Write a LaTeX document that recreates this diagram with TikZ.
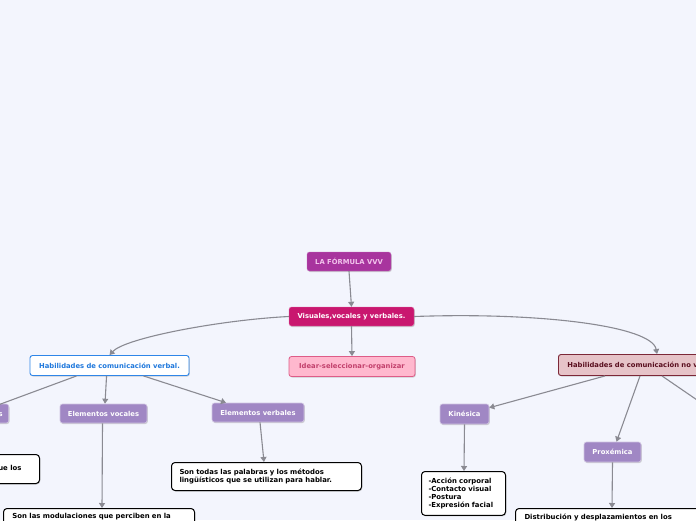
\documentclass[tikz,border=0pt]{standalone}
\usepackage{fontspec}
\setmainfont{DejaVu Sans}
\usetikzlibrary{arrows.meta,shadows}
\definecolor{bg}{HTML}{F3F5FD}
\definecolor{vvv}{HTML}{A8349E}
\definecolor{vvvtxt}{HTML}{F2C4EC}
\definecolor{vis}{HTML}{C9176F}
\definecolor{idea}{HTML}{FFB8CE}
\definecolor{ideaborder}{HTML}{DE5C88}
\definecolor{ideatxt}{HTML}{C2406C}
\definecolor{verb}{HTML}{2F86E8}
\definecolor{verbtxt}{HTML}{1F78DC}
\definecolor{nov}{HTML}{E6C3C8}
\definecolor{novborder}{HTML}{7C2838}
\definecolor{novtxt}{HTML}{5A0F1F}
\definecolor{purp}{HTML}{A087C4}
\definecolor{edge}{HTML}{8A8A92}
\tikzset{
  x=1pt,y=-1pt,
  every node/.style={font=\fontsize{6.8}{8}\selectfont\bfseries},
  base/.style={rounded corners=2.5pt, inner xsep=6pt, inner ysep=0pt, minimum height=19pt,
     drop shadow={shadow xshift=0.8pt,shadow yshift=-1pt,fill=black!35,opacity=0.5}},
  topbox/.style={base, fill=vvv, draw=vvv!70!white, text=vvvtxt},
  visbox/.style={base, fill=vis, draw=vis!60!white, text=white},
  ideabox/.style={base, fill=idea, draw=ideaborder, line width=0.8pt, text=ideatxt, minimum height=20pt},
  verbbox/.style={base, fill=white, draw=verb, line width=0.9pt, text=verbtxt, minimum height=20pt},
  novbox/.style={base, fill=nov, draw=novborder, line width=0.9pt, text=novtxt, minimum height=21pt},
  purpbox/.style={base, fill=purp, draw=purp!50!white, line width=0.6pt, text=white},
  textbox/.style={rounded corners=3.5pt, fill=white, draw=black, line width=1pt, align=left,
     inner xsep=8pt, inner ysep=5pt, font=\fontsize{6.9}{8.4}\selectfont\bfseries,
     drop shadow={shadow xshift=0.8pt,shadow yshift=-1pt,fill=black!35,opacity=0.5}},
  conn/.style={draw=edge, line width=1.1pt, -{Triangle[length=5pt,width=6pt]}},
}
\begin{document}
\begin{tikzpicture}
\useasboundingbox (0,0) rectangle (696,520);
\fill[bg] (0,0) rectangle (696,520);

\node[topbox, minimum width=84pt] (vvv) at (349,261.5) {LA FÓRMULA VVV};
\node[visbox, minimum width=125pt] (vis) at (351.5,316.5) {Visuales,vocales y verbales.};
\node[ideabox, minimum width=126pt] (idea) at (352,366.5) {Idear-seleccionar-organizar};
\node[verbbox, minimum width=159pt] (hv) at (109.5,365.5) {Habilidades de comunicación verbal.};
\node[novbox, anchor=west, inner xsep=9pt] (hnv) at (558,365) {Habilidades de comunicación no verbal.};

\node[purpbox, anchor=east, inner xsep=6pt] (evis) at (9,413.5) {Elementos visuales};
\node[purpbox, minimum width=87pt] (evoc) at (103.5,413.5) {Elementos vocales};
\node[purpbox, minimum width=92pt] (ever) at (258,412.5) {Elementos verbales};
\node[purpbox, minimum width=49pt, minimum height=20pt] (kin) at (464.5,414) {Kinésica};
\node[purpbox, minimum width=57pt, minimum height=20pt] (prox) at (612.5,452) {Proxémica};

\node[textbox, minimum height=29pt, anchor=north east, inner xsep=18pt] (tvis) at (40,454) {Son aquellos que los};
\node[textbox, anchor=north west, text width=174pt, minimum height=28pt] (tver) at (171,462) {Son todas las palabras y los métodos\\lingüísticos que se utilizan para hablar.};
\node[textbox, anchor=north west, text width=70pt, inner xsep=7pt, inner ysep=6pt, font=\fontsize{6.9}{8.3}\selectfont\bfseries] (tkin) at (421,471) {-Acción corporal\\-Contacto visual\\-Postura\\-Expresión facial};
\node[textbox, anchor=north west, text width=173pt, inner xsep=9pt, minimum height=24pt, text depth=12pt] (tvoc) at (3,508) {Son las modulaciones que perciben en la};
\node[textbox, anchor=north west, text width=190pt, inner xsep=9pt, minimum height=24pt, text depth=12pt] (tprox) at (515,508) {Distribución y desplazamientos en los};

\coordinate (offl) at (-2,405);
\coordinate (offr) at (700,402);

\draw[conn] (vvv.south) -- (vis.north);
\draw[conn] (vis.south) -- (idea.north);
\draw[conn] (vis.west) .. controls (220,320) and (125,338) .. (hv.north);
\draw[conn] (vis.east) .. controls (540,312) and (652,326) .. ([xshift=99pt]hnv.north west);
\draw[draw=edge, line width=1.1pt] ([xshift=47pt]hv.south west) -- (offl);
\draw[conn] ([xshift=77pt]hv.south west) -- ([xshift=1.5pt]evoc.north);
\draw[conn] ([xshift=114pt]hv.south west) -- ([xshift=-32pt]ever.north);
\draw[conn] ([xshift=-1pt]evoc.south) -- ([xshift=99pt]tvoc.north west);
\draw[conn] ([xshift=2pt]ever.south) -- ([xshift=93pt]tver.north west);
\draw[conn] ([xshift=47pt]hnv.south west) -- ([yshift=-4pt]kin.north east);
\draw[conn] ([xshift=82pt]hnv.south west) -- ([xshift=4pt]prox.north);
\draw[draw=edge, line width=1.1pt] ([xshift=104pt]hnv.south west) -- (offr);
\draw[conn] (kin.south) -- ([xshift=43pt]tkin.north west);
\draw[conn] (prox.south) -- ([xshift=97pt]tprox.north west);
\end{tikzpicture}
\end{document}
